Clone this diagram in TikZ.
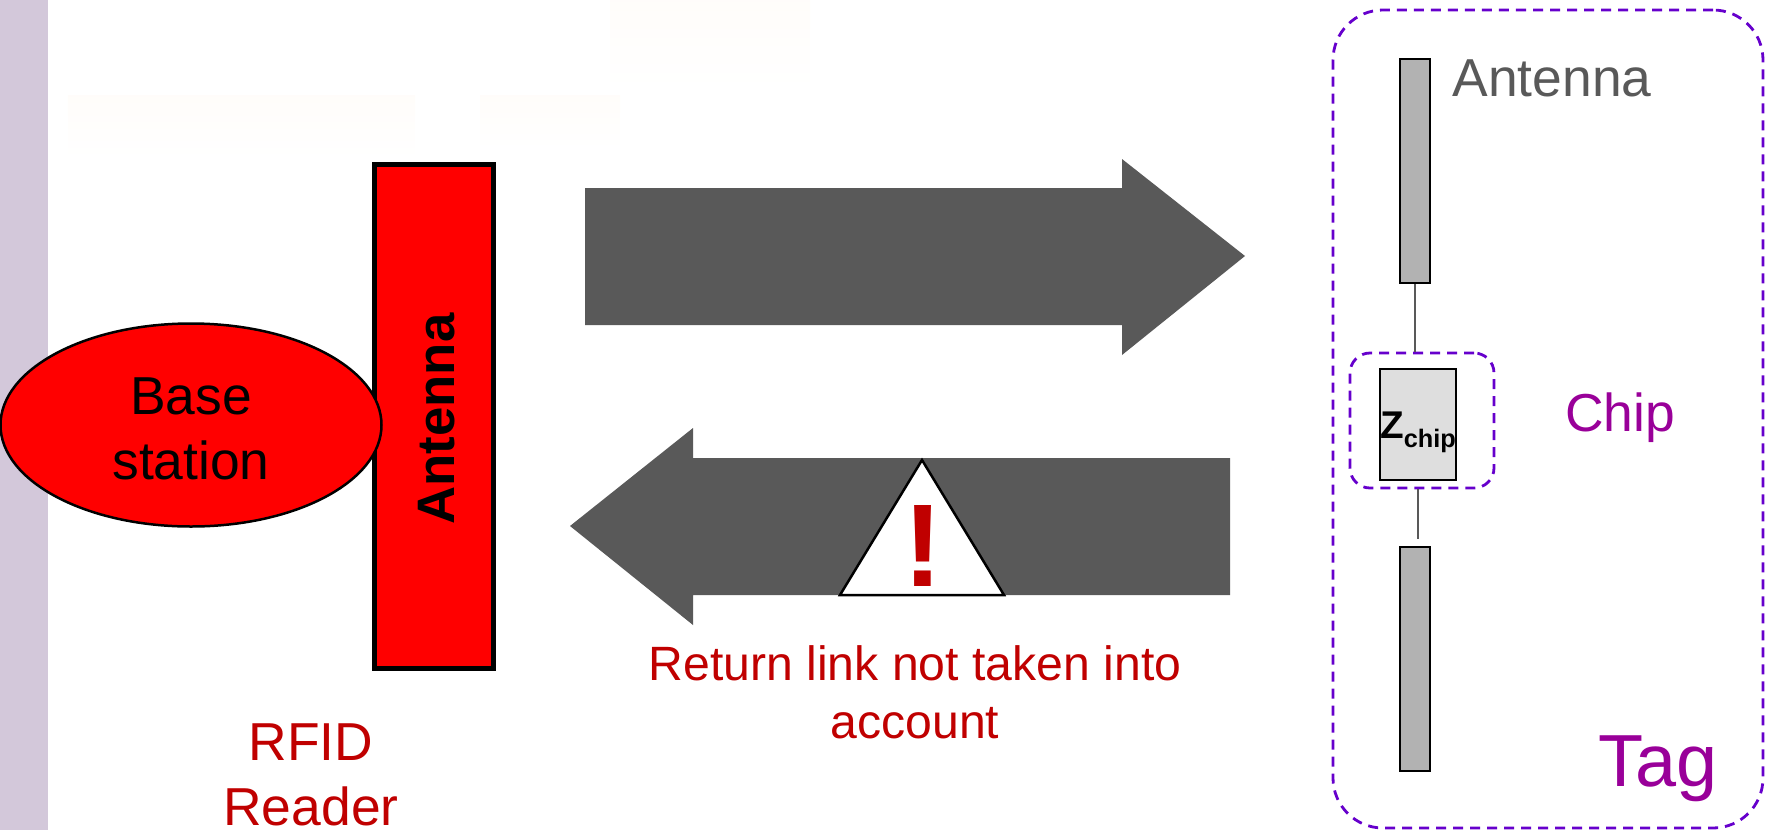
\documentclass[tikz,border=0pt]{standalone}
\usepackage{fontspec}
\setmainfont{Liberation Sans}
\definecolor{rfidred}{RGB}{192,0,0}
\definecolor{rfidpurple}{RGB}{153,0,153}
\definecolor{rfidviolet}{RGB}{102,0,204}
\definecolor{rfiddark}{RGB}{89,89,89}
\definecolor{rfidband}{RGB}{211,200,218}
\usetikzlibrary{arrows.meta,positioning,shapes.geometric,calc}

\begin{document}
\begin{tikzpicture}[
  bigarrow/.style={fill=rfiddark},
  tagant/.style={draw,line width=0.025cm,fill=black!30,minimum width=0.30cm,
    minimum height=2.24cm,inner sep=0pt},
  zone/.style={draw=rfidviolet,line width=0.028cm,dash pattern=on 0.10cm off 0.07cm},
  wire/.style={draw=rfiddark,line width=0.025cm},
  label/.style={font=\fontsize{15.2}{18.5}\selectfont,align=center,inner sep=0pt}
]
  \useasboundingbox (0,0) rectangle (17.66,8.30);

  % Background
  \fill[rfidband] (0,0) rectangle (0.48,8.30);
  \shade[top color=orange!2,bottom color=white] (0.68,7.35) rectangle (4.15,6.70);
  \shade[top color=orange!2,bottom color=white] (4.80,7.35) rectangle (6.20,6.80);
  \shade[top color=orange!2,bottom color=white] (6.10,8.30) rectangle (8.10,7.40);

  % Left: reader
  \node[draw,line width=0.05cm,fill=red,minimum width=1.19cm,minimum height=5.04cm,
    inner sep=0pt] (readant) at (4.34,4.14) {};
  \node[rotate=90,font=\fontsize{15}{18}\selectfont\bfseries,inner sep=0pt] (readtxt) at (4.37,4.11) {Antenna};
  \node[draw,ellipse,line width=0.025cm,fill=red,minimum width=3.81cm,minimum height=2.03cm,
    inner sep=0pt] (base) at (1.91,4.05) {};
  \node[label] (basetxt) at (1.91,4.01) {Base\\station};
  \node[label,text=rfidred] (reader) at (3.11,0.55) {RFID\\Reader};

  % Center: links
  \fill[bigarrow] (5.85,6.42) -- (11.22,6.42) -- (11.22,6.71) -- (12.45,5.74)
    -- (11.22,4.75) -- (11.22,5.05) -- (5.85,5.05) -- cycle;
  \fill[bigarrow] (12.30,3.72) -- (6.93,3.72) -- (6.93,4.02) -- (5.70,3.04)
    -- (6.93,2.05) -- (6.93,2.35) -- (12.30,2.35) -- cycle;
  \draw[line width=0.025cm,fill=white,line join=miter] (9.22,3.70) -- (8.40,2.35) -- (10.04,2.35) -- cycle;
  \node[font=\fontsize{33.5}{36}\selectfont\bfseries,text=rfidred,inner sep=0pt] (warn) at (9.235,2.84) {!};
  \node[font=\fontsize{13.7}{16.6}\selectfont,align=center,inner sep=0pt,text=rfidred] (retlink) at (9.15,1.375) {Return link not taken into\\account};

  % Right: tag
  \node[zone,rounded corners=0.5cm,minimum width=4.30cm,minimum height=8.18cm] (tag) at (15.48,4.11) {};
  \node[zone,rounded corners=0.2cm,minimum width=1.44cm,minimum height=1.35cm] (chipzone) at (14.22,4.095) {};
  \node[tagant] (antup) at (14.15,6.59) {};
  \node[tagant] (antlow) at (14.15,1.71) {};
  \node[draw,line width=0.025cm,fill=black!13,minimum width=0.76cm,minimum height=1.11cm,
    inner sep=0pt] (zbox) at (14.18,4.055) {};
  \node[font=\bfseries,inner sep=0pt] (zlabel) at (14.18,3.98)
    {\fontsize{11}{12}\selectfont Z\raisebox{-0.45ex}{\fontsize{7.2}{9}\selectfont chip}};
  \coordinate (lowend) at ($(zbox.south |- antlow.north)+(0,0.07)$);
  \draw[wire] (antup.south) -- (antup.south |- chipzone.north);
  \draw[wire] (zbox.south |- chipzone.south) -- (lowend);

  \node[label,text=rfiddark,anchor=base] (antlabel) at (15.52,7.34) {Antenna};
  \node[label,text=rfidpurple,anchor=base] (chiplabel) at (16.20,3.99) {Chip};
  \node[font=\fontsize{21}{24}\selectfont,text=rfidpurple,anchor=base,inner sep=0pt] (taglabel) at (16.58,0.44) {Tag};
\end{tikzpicture}
\end{document}
